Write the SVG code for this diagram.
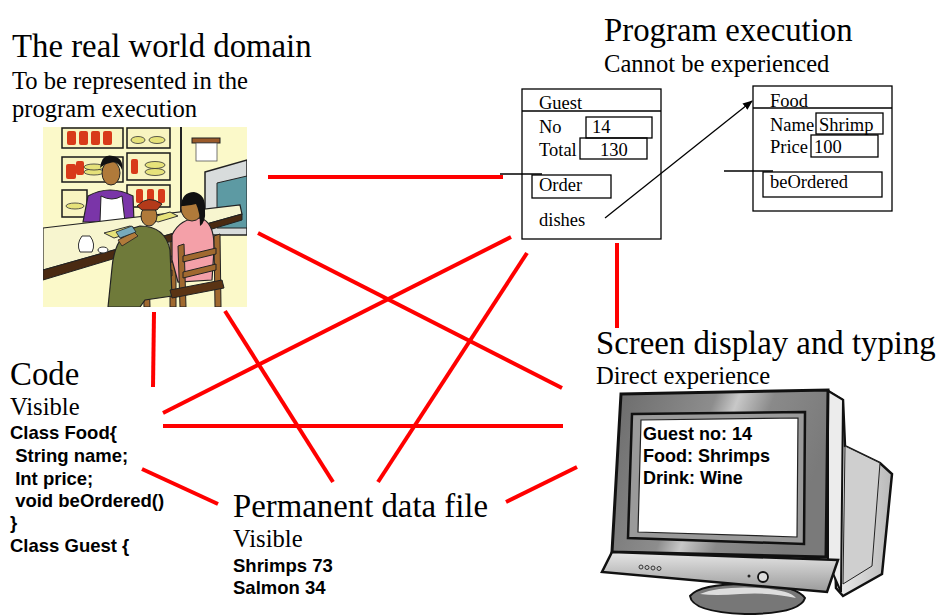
<svg xmlns="http://www.w3.org/2000/svg" width="937" height="615" viewBox="0 0 937 615">
<style>
.t32{font-family:"Liberation Serif","Times New Roman",serif;font-size:32.8px;fill:#000}
.t24{font-family:"Liberation Serif","Times New Roman",serif;font-size:24.6px;fill:#000}
.tb{font-family:"Liberation Serif","Times New Roman",serif;font-size:18.5px;fill:#000}
.code{font-family:"Liberation Sans",Arial,sans-serif;font-size:18.5px;font-weight:bold;fill:#000}
.box{fill:none;stroke:#000;stroke-width:1.3}
.red{stroke:#ff0000;stroke-width:4;fill:none}
.ol{stroke:#1a1a1a;stroke-width:1.5}
</style>
<defs>
<marker id="ah" markerWidth="10" markerHeight="8" refX="9" refY="4" orient="auto" markerUnits="userSpaceOnUse">
<path d="M0,0 L10,4 L0,8 z" fill="#000"/>
</marker>
<clipPath id="imgclip"><rect x="43" y="127" width="204" height="180"/></clipPath>
<linearGradient id="bez" x1="0" y1="0" x2="1" y2="0.3">
<stop offset="0" stop-color="#6a6a6a"/><stop offset="0.45" stop-color="#8d8d8d"/><stop offset="0.55" stop-color="#c8c8c8"/><stop offset="0.7" stop-color="#8a8a8a"/><stop offset="1" stop-color="#7a7a7a"/>
</linearGradient>
<linearGradient id="side" x1="0" y1="0" x2="1" y2="0">
<stop offset="0" stop-color="#f2f2f2"/><stop offset="1" stop-color="#b9b9b9"/>
</linearGradient>
<linearGradient id="chin" x1="0" y1="0" x2="0" y2="1">
<stop offset="0" stop-color="#e6e6e6"/><stop offset="1" stop-color="#9a9a9a"/>
</linearGradient>
</defs>

<!-- connectors -->
<g id="connectors">
<line class="red" x1="268" y1="177" x2="503" y2="177"/>
<line class="red" x1="258" y1="233" x2="562" y2="388"/>
<line class="red" x1="511" y1="237" x2="163" y2="413"/>
<line class="red" x1="527" y1="253" x2="378" y2="482"/>
<line class="red" x1="154" y1="312" x2="153" y2="387"/>
<line class="red" x1="225" y1="311" x2="333" y2="482"/>
<line class="red" x1="163" y1="426" x2="563" y2="426"/>
<line class="red" x1="142" y1="469" x2="218" y2="504"/>
<line class="red" x1="506" y1="502" x2="577" y2="467"/>
<line class="red" x1="617" y1="243" x2="617" y2="328"/>
</g>

<!-- real world domain -->
<g id="real-world">
<text class="t32" x="12" y="57">The real world domain</text>
<text class="t24" x="12" y="89">To be represented in the</text>
<text class="t24" x="12" y="117">program execution</text>
<g clip-path="url(#imgclip)">
<rect x="43" y="127" width="204" height="180" fill="#fbf9c9"/>
<rect x="62" y="128" width="61" height="20" fill="#f8f4c0" class="ol"/>
<rect x="67" y="131" width="9" height="14" rx="2" fill="#d83a1a"/>
<rect x="79" y="131" width="9" height="14" rx="2" fill="#d83a1a"/>
<rect x="91" y="131" width="9" height="14" rx="2" fill="#d83a1a"/>
<rect x="103" y="131" width="9" height="14" rx="2" fill="#d83a1a"/>
<rect x="62" y="157" width="61" height="25" fill="#f8f4c0" class="ol"/>
<rect x="66" y="164" width="10" height="15" rx="2" fill="#d83a1a"/>
<rect x="76" y="161" width="8" height="14" rx="2" fill="#d83a1a"/>
<ellipse cx="94" cy="172" rx="10" ry="3" fill="#e6e27a" stroke="#333" stroke-width="0.8"/>
<ellipse cx="94" cy="167" rx="10" ry="3" fill="#e6e27a" stroke="#333" stroke-width="0.8"/>
<rect x="62" y="190" width="25" height="27" fill="#f8f4c0" class="ol"/>
<ellipse cx="75" cy="206" rx="9" ry="3" fill="#e6e27a" stroke="#333" stroke-width="0.8"/>
<rect x="127" y="128" width="43" height="20" fill="#f8f4c0" class="ol"/>
<ellipse cx="138" cy="140" rx="7" ry="3.5" fill="#e6e27a" stroke="#333" stroke-width="0.8"/>
<ellipse cx="157" cy="140" rx="8" ry="3.5" fill="#e6e27a" stroke="#333" stroke-width="0.8"/>
<rect x="127" y="153" width="43" height="27" fill="#f8f4c0" class="ol"/>
<rect x="131" y="159" width="7" height="15" rx="2" fill="#d83a1a"/>
<ellipse cx="155" cy="172" rx="10" ry="3.5" fill="#e6e27a" stroke="#333" stroke-width="0.8"/>
<ellipse cx="155" cy="165" rx="10" ry="3.5" fill="#e6e27a" stroke="#333" stroke-width="0.8"/>
<rect x="127" y="185" width="43" height="22" fill="#f8f4c0" class="ol"/>
<rect x="136" y="189" width="7" height="14" rx="2" fill="#d83a1a"/>
<rect x="147" y="189" width="7" height="14" rx="2" fill="#d83a1a"/>
<rect x="158" y="189" width="7" height="14" rx="2" fill="#d83a1a"/>
<line x1="181" y1="127" x2="181" y2="220" stroke="#222" stroke-width="2"/>
<rect x="192" y="138" width="28" height="5" fill="#9a5a2a" stroke="#222" stroke-width="1"/>
<rect x="196" y="143" width="21" height="18" fill="#ffffff" stroke="#555" stroke-width="0.8"/>
<path d="M205,172 L247,160 L247,235 L205,235 Z" fill="#d8dcdc" stroke="#222" stroke-width="1.5"/>
<path d="M217,183 L247,176 L247,228 L217,228 Z" fill="#5d9aa3" stroke="#222" stroke-width="1"/>
<path d="M83,222 L88,196 Q110,184 133,196 L134,222 Z" fill="#7a35a8" stroke="#222" stroke-width="1.2"/>
<path d="M101,196 L100,222 L125,222 L122,196 Q112,202 101,196 Z" fill="#ffffff" stroke="#222" stroke-width="1"/>
<ellipse cx="111" cy="173" rx="9" ry="12" fill="#b07a3a" stroke="#222" stroke-width="1"/>
<path d="M100,168 Q102,153 113,156 Q124,158 122,170 Q118,160 110,163 Q104,164 100,168 Z" fill="#111"/>
<path d="M43,228 L240,205 L242,214 L43,270 Z" fill="#f7f5cf" stroke="#222" stroke-width="1.2"/>
<path d="M43,270 L242,214 L242,220 L43,280 Z" fill="#4a2a12" stroke="#222" stroke-width="1"/>
<path d="M82,236 Q76,244 80,252 L92,252 Q96,244 90,236 Z" fill="#fff" stroke="#333" stroke-width="1"/>
<ellipse cx="103" cy="250" rx="5" ry="3" fill="#fff" stroke="#333" stroke-width="1"/>
<path d="M104,233 L130,226 L140,230 L114,238 Z" fill="#e6e27a" stroke="#333" stroke-width="1"/>
<path d="M150,218 L170,212 L178,216 L158,222 Z" fill="#e6e27a" stroke="#333" stroke-width="1"/>
<path d="M142,248 L148,246 L150,307 L144,307 Z" fill="#a0692f" stroke="#222" stroke-width="1"/>
<path d="M170,242 L176,240 L176,307 L170,307 Z" fill="#a0692f" stroke="#222" stroke-width="1"/>
<path d="M146,262 L172,256 L172,262 L146,268 Z" fill="#a0692f" stroke="#222" stroke-width="1"/>
<path d="M146,276 L172,270 L172,276 L146,282 Z" fill="#a0692f" stroke="#222" stroke-width="1"/>
<path d="M108,307 L112,268 Q115,232 140,226 Q165,226 170,250 L172,296 L145,300 L140,307 Z" fill="#6f7a3a" stroke="#222" stroke-width="1.2"/>
<ellipse cx="149" cy="216" rx="8" ry="10" fill="#b07a3a" stroke="#222" stroke-width="1"/>
<path d="M137,206 Q148,194 162,204 L157,210 L142,210 Z" fill="#b33a1a" stroke="#222" stroke-width="1"/>
<path d="M118,240 L134,232 L138,236 L122,246 Z" fill="#b07a3a" stroke="#222" stroke-width="0.8"/>
<path d="M116,232 L132,226 L136,232 L120,238 Z" fill="#7ab" stroke="#222" stroke-width="0.8"/>
<path d="M172,235 Q180,218 200,218 Q215,222 214,250 L212,280 L178,282 L172,260 Z" fill="#f4a0a8" stroke="#222" stroke-width="1.2"/>
<ellipse cx="192" cy="208" rx="11" ry="13" fill="#b07a3a" stroke="#222" stroke-width="1"/>
<path d="M181,206 Q182,192 194,192 Q206,194 205,210 Q206,222 200,226 Q200,212 196,204 Q186,206 181,206 Z" fill="#111"/>
<path d="M178,246 L184,244 L186,307 L180,307 Z" fill="#a0692f" stroke="#222" stroke-width="1"/>
<path d="M214,236 L220,234 L221,307 L215,307 Z" fill="#a0692f" stroke="#222" stroke-width="1"/>
<path d="M183,256 L216,248 L216,254 L183,262 Z" fill="#a0692f" stroke="#222" stroke-width="1"/>
<path d="M183,272 L216,264 L216,270 L183,278 Z" fill="#a0692f" stroke="#222" stroke-width="1"/>
<path d="M170,290 L222,280 L224,288 L172,298 Z" fill="#5a3414" stroke="#222" stroke-width="1"/>
</g>
</g>

<!-- program execution -->
<g id="program-execution">
<text class="t32" x="604" y="41">Program execution</text>
<text class="t24" x="604" y="72">Cannot be experienced</text>
</g>

<g id="guest">
<rect class="box" x="522" y="89" width="139" height="150"/>
<line class="box" x1="522" y1="111" x2="661" y2="111"/>
<text class="tb" x="539" y="109">Guest</text>
<text class="tb" x="539" y="133">No</text>
<rect class="box" x="586" y="117" width="66" height="21"/>
<text class="tb" x="592" y="133">14</text>
<text class="tb" x="539" y="156">Total</text>
<rect class="box" x="580" y="138" width="67" height="21"/>
<text class="tb" x="600" y="156">130</text>
<line class="box" x1="500" y1="174" x2="542" y2="174"/>
<rect class="box" x="532" y="175" width="79" height="23"/>
<text class="tb" x="539" y="191">Order</text>
<text class="tb" x="539" y="226">dishes</text>
</g>

<g id="food">
<rect class="box" x="753" y="86" width="139" height="125"/>
<line class="box" x1="753" y1="108" x2="892" y2="108"/>
<text class="tb" x="770" y="107">Food</text>
<text class="tb" x="770" y="131">Name</text>
<rect class="box" x="816" y="113" width="67" height="21"/>
<text class="tb" x="819" y="131">Shrimp</text>
<text class="tb" x="770" y="153">Price</text>
<rect class="box" x="811" y="135" width="67" height="22"/>
<text class="tb" x="814" y="153">100</text>
<line class="box" x1="724" y1="171" x2="773" y2="171"/>
<rect class="box" x="763" y="172" width="119" height="25"/>
<text class="tb" x="770" y="188">beOrdered</text>
</g>

<g id="dishes-arrow">
<line x1="605" y1="218" x2="752" y2="101" stroke="#000" stroke-width="1.3" marker-end="url(#ah)"/>
</g>

<!-- code -->
<g id="code">
<text class="t32" x="10" y="385">Code</text>
<text class="t24" x="10" y="415">Visible</text>
<text class="code" x="10" y="439">Class Food{</text>
<text class="code" x="10" y="462" xml:space="preserve"> String name;</text>
<text class="code" x="10" y="485" xml:space="preserve"> Int price;</text>
<text class="code" x="10" y="507" xml:space="preserve"> void beOrdered()</text>
<text class="code" x="10" y="529">}</text>
<text class="code" x="10" y="552">Class Guest {</text>
</g>

<!-- permanent data file -->
<g id="data-file">
<text class="t32" x="233" y="517">Permanent data file</text>
<text class="t24" x="233" y="547">Visible</text>
<text class="code" x="233" y="572">Shrimps 73</text>
<text class="code" x="233" y="594">Salmon 34</text>
</g>

<!-- screen -->
<g id="screen">
<text class="t32" x="596" y="354">Screen display and typing</text>
<text class="t24" x="596" y="384">Direct experience</text>
<path d="M690,596 Q700,584 745,584 Q795,584 805,598 Q800,614 745,614 Q692,612 690,596 Z" fill="#777" stroke="#111" stroke-width="2"/>
<path d="M700,594 Q720,586 760,588 Q790,590 796,598 Q770,592 740,594 Q715,596 700,594 Z" fill="#ddd"/>
<path d="M830,392 L843,400 L845,446 L880,463 L892,474 L882,574 L843,596 L836,588 Z" fill="url(#side)" stroke="#111" stroke-width="2.5"/>
<path d="M845,446 L880,463 L872,566 L843,584 Z" fill="#cfcfcf" stroke="#222" stroke-width="1"/>
<path d="M828,391 L843,400 L841,592 L828,562 Z" fill="#ececec" stroke="#111" stroke-width="2"/>
<path d="M621,394 L828,390 L826,557 L612,552 Z" fill="url(#bez)" stroke="#111" stroke-width="3"/>
<path d="M632,414 L805,412 L804,544 L628,538 Z" fill="#9a9a9a" stroke="#111" stroke-width="2.5"/>
<path d="M641,420 L798,418 L797,537 L638,532 Z" fill="#ffffff" stroke="#222" stroke-width="1.2"/>
<path d="M612,552 L838,560 L827,592 L602,572 Z" fill="url(#chin)" stroke="#111" stroke-width="2.5"/>
<circle cx="641" cy="567" r="2" fill="none" stroke="#333" stroke-width="1"/>
<circle cx="647" cy="567.5" r="2" fill="none" stroke="#333" stroke-width="1"/>
<circle cx="653" cy="568" r="2" fill="none" stroke="#333" stroke-width="1"/>
<circle cx="659" cy="568.5" r="2" fill="none" stroke="#333" stroke-width="1"/>
<circle cx="749" cy="576" r="1.5" fill="#222"/>
<circle cx="763" cy="577" r="5" fill="#ddd" stroke="#111" stroke-width="1.8"/>
<text class="code" x="643" y="440" style="font-size:18px">Guest no: 14</text>
<text class="code" x="643" y="462" style="font-size:18px">Food: Shrimps</text>
<text class="code" x="643" y="484" style="font-size:18px">Drink: Wine</text>
</g>
</svg>
